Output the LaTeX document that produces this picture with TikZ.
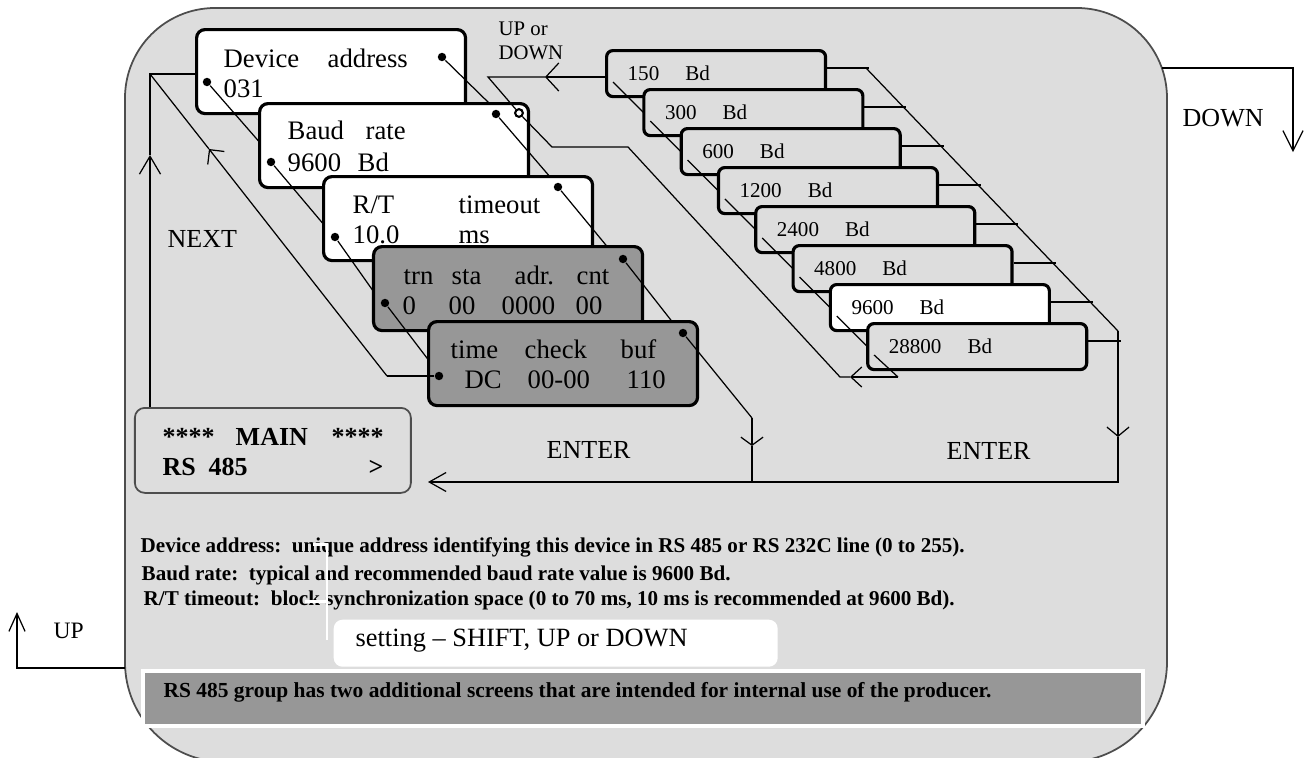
\documentclass[tikz,border=0pt]{standalone}
\usepackage{fontspec}
\setmainfont{Liberation Serif}
\usetikzlibrary{arrows.meta, positioning, calc}
\definecolor{panelgray}{HTML}{DDDDDD}
\definecolor{screengray}{HTML}{979797}
\definecolor{framegray}{HTML}{4D4D4D}

\begin{document}
\begin{tikzpicture}[x=0.1mm, y=-0.1mm,
    link/.style={line width=0.35pt},
    screen/.style={draw, line width=0.9pt, rounded corners=2.4pt, fill=white, anchor=north west,
      minimum width=26.9mm, minimum height=8.4mm, inner sep=0pt},
    ratebox/.style={draw, line width=0.9pt, rounded corners=1.8pt, anchor=north west,
      minimum width=21.9mm, minimum height=4.6mm, inner sep=0pt},
    dot/.style={circle, fill=black, inner sep=0pt, minimum size=2.4pt},
    bodytext/.style={anchor=base west, inner sep=0pt, font=\fontsize{7.6}{9}\selectfont},
    ratetext/.style={anchor=base west, inner sep=0pt, font=\fontsize{6}{7}\selectfont},
    cmdtext/.style={anchor=base west, inner sep=0pt, font=\fontsize{7.4}{9}\selectfont},
    notetext/.style={anchor=base west, inner sep=0pt, font=\bfseries\fontsize{6}{7}\selectfont}]
  \useasboundingbox (0,0) rectangle (1305,758);

  % panel
  \draw[framegray, line width=0.5pt, fill=panelgray] (125,400) [rounded corners=25.6pt] -- (125,8) -- (640,8)
    [rounded corners=25.6pt] -- (1167,8) -- (1167,400)
    [rounded corners=28.4pt] -- (1167,762) -- (640,762)
    [rounded corners=28.4pt] -- (125,762) -- cycle;

  % UP / DOWN outside
  \coordinate (upfoot) at (125,668);
  \draw[link, -{Straight Barb[length=5.1pt,width=4.6pt]}] (upfoot) -- (17,668) -- (17,612);
  \node[cmdtext, font=\fontsize{6.7}{8}\selectfont] (uplbl) at (53,638) {UP};
  \coordinate (downfoot) at (1162,68);
  \draw[link, -{Straight Barb[length=5.7pt,width=5.7pt]}] (downfoot) -- (1293,68) -- (1293,152);
  \node[cmdtext] (downlbl) at (1182,126) {DOWN};

  % device address
  \node[screen] (dev) at (195,28) {};
  \node[bodytext] (devA) at (223,67) {Device};
  \node[bodytext] (devB) at (327,67) {address};
  \node[bodytext] (devC) at (223,97) {031};
  \node[dot] (devL) at (207,82) {};
  \node[dot] (devR) at (442,57) {};
  \draw[link] (devL) -- (262,145);
  \draw[link] (devR) -- (490,104);

  % baud rate
  \node[screen] (baud) at (258,102) {};
  \node[bodytext] (baudA) at (287,139) {Baud};
  \node[bodytext] (baudB) at (365,139) {rate};
  \node[bodytext] (baudC) at (287,171) {9600};
  \node[bodytext] (baudD) at (357,171) {Bd};
  \node[dot] (baudL) at (271,162) {};
  \node[dot] (baudR) at (496,114) {};
  \node[circle, draw, line width=0.6pt, fill=white, inner sep=0pt, minimum size=2.2pt] (baudO) at (519,113) {};
  \draw[link] (baudL) -- (325,226);
  \draw[link] (baudR) -- (551,178);

  % R/T timeout
  \node[screen] (rt) at (322,175) {};
  \node[bodytext] (rtA) at (352,213) {R/T};
  \node[bodytext] (rtB) at (458,213) {timeout};
  \node[bodytext] (rtC) at (352,243) {10.0};
  \node[bodytext] (rtD) at (458,243) {ms};
  \node[dot] (rtL) at (335,237) {};
  \node[dot] (rtR) at (558,187) {};
  \draw[link] (rtL) -- (376,295);
  \draw[link] (rtR) -- (610,250);

  % trn sta adr cnt
  \node[screen, fill=screengray] (trn) at (372,245) {};
  \node[bodytext] (trnA) at (403,284) {trn};
  \node[bodytext] (trnB) at (451,284) {sta};
  \node[bodytext] (trnC) at (514,284) {adr.};
  \node[bodytext] (trnD) at (576,284) {cnt};
  \node[bodytext] (trnE) at (402,314) {0};
  \node[bodytext] (trnF) at (448,314) {00};
  \node[bodytext] (trnG) at (501,314) {0000};
  \node[bodytext] (trnH) at (575,314) {00};
  \node[dot] (trnL) at (385,303) {};
  \node[dot] (trnR) at (623,259) {};
  \draw[link] (trnL) -- (430,362);
  \draw[link] (trnR) -- (674,324);

  % time check buf
  \node[screen, fill=screengray] (tim) at (427,320) {};
  \node[bodytext] (timA) at (450,358) {time};
  \node[bodytext] (timB) at (524,358) {check};
  \node[bodytext] (timC) at (620,358) {buf};
  \node[bodytext] (timD) at (464,388) {DC};
  \node[bodytext] (timE) at (527,388) {00-00};
  \node[bodytext] (timF) at (626,388) {110};
  \node[dot] (timL) at (439,376) {};
  \node[dot] (timR) at (683,333) {};

  % main screen and NEXT loop
  \node[draw=framegray, line width=0.5pt, rounded corners=2.8pt, fill=panelgray, anchor=north west,
    minimum width=27.6mm, minimum height=8.5mm, inner sep=0pt] (mainscr) at (134,407) {};
  \node[bodytext, font=\bfseries\fontsize{7.4}{9}\selectfont] (mainA) at (162,445) {****};
  \node[bodytext, font=\bfseries\fontsize{7.4}{9}\selectfont] (mainB) at (235,445) {MAIN};
  \node[bodytext, font=\bfseries\fontsize{7.4}{9}\selectfont] (mainC) at (331,445) {****};
  \node[bodytext, font=\bfseries\fontsize{7.4}{9}\selectfont] (mainD) at (162,475) {RS};
  \node[bodytext, font=\bfseries\fontsize{7.4}{9}\selectfont] (mainE) at (208,475) {485};
  \node[bodytext, font=\bfseries\fontsize{7.4}{9}\selectfont] (mainF) at (368,475) {>};
  \coordinate (nextcorner) at (150,74);
  \coordinate (nextbend) at (387,376);
  \draw[link, -{Straight Barb[length=5.1pt,width=6pt]}] (mainscr.north -| nextcorner) -- (150,155);
  \draw[link] (150,155) -- (nextcorner) -- (nextcorner -| dev.west);
  \draw[link] (timL) -- (nextbend);
  \draw[link, -{Straight Barb[length=3pt,width=6pt]}] (nextbend) -- (209,149);
  \draw[link] (209,149) -- (nextcorner);
  \node[cmdtext] (nextlbl) at (167,247) {NEXT};

  % ENTER
  \coordinate (enterL) at (752,418);
  \coordinate (enterR) at (1118,331);
  \draw[link] (timR) -- (enterL);
  \draw[link, -{Straight Barb[length=2.3pt,width=6.3pt]}] (enterL) -- (752,446);
  \draw[link] (752,446) -- (752,482);
  \draw[link, -{Straight Barb[length=2.6pt,width=6.3pt]}] (enterR) -- (1118,437);
  \draw[link, -{Straight Barb[length=4.8pt,width=5.4pt]}] (1118,437) -- (1118,482) -- (428,482);
  \node[cmdtext] (enterlblA) at (546,458) {ENTER};
  \node[cmdtext] (enterlblB) at (946,459) {ENTER};

  % baud rate list
  \draw[link] (866,68) -- (enterR);
  \foreach \lbl/\fillc [count=\i from 0] in {150/panelgray, 300/panelgray, 600/panelgray, 1200/panelgray,
      2400/panelgray, 4800/panelgray, 9600/white, 28800/panelgray} {
    \node[ratebox, fill=\fillc] (r\i) at ({605+37.3*\i},{49+39*\i}) {};
    \node[ratetext] (rt\i) at ([shift={(22,31)}]r\i.north west) {\lbl\hspace{7.4pt}Bd};
    \ifnum\i<7
      \draw[link] ([shift={(8,33)}]r\i.north west) -- ++(45,45);
      \draw[link] ([shift={(0,19)}]r\i.north east) -- ++(42,0);
    \else
      \draw[link] ([shift={(0,19)}]r\i.north east) -- ++(33,0);
    \fi
  }

  % back to baud rate
  \coordinate (retR) at (898,377);
  \draw[link] ([shift={(8,33)}]r7.north west) -- (retR);
  \draw[link, -{Straight Barb[length=3.1pt,width=5.7pt]}] (retR) -- (850,377);
  \draw[link] (850,377) -- (840,377) -- (628,147) -- (552,147) -- (baudO);
  \draw[link, -{Straight Barb[length=3.7pt,width=8pt]}] ([shift={(0,28)}]r0.north west) -- (545,77);
  \draw[link] (545,77) -- (488,77) -- (baudO);
  \node[ratetext, font=\fontsize{5.9}{7}\selectfont] (updnA) at (498,35) {UP or};
  \node[ratetext, font=\fontsize{5.9}{7}\selectfont] (updnB) at (498,59) {DOWN};

  % notes
  \node[notetext] (noteA) at (140,552) {Device address:\hspace{0.5em}unique address identifying this device in RS 485 or RS 232C line (0 to 255).};
  \node[notetext] (noteB) at (141,580) {Baud rate:\hspace{0.5em}typical and recommended baud rate value is 9600 Bd.};
  \node[notetext] (noteC) at (143,605) {R/T timeout:\hspace{0.5em}block synchronization space (0 to 70 ms, 10 ms is recommended at 9600 Bd).};
  \draw[white, line width=0.85pt] (313,544) -- (327,544) -- (327,640);
  \draw[white, line width=0.85pt] (305,601) -- (327,601);
  \node[fill=white, rounded corners=2.5pt, anchor=north west, minimum width=44.4mm, minimum height=4.7mm,
    inner sep=0pt] (setbox) at (333,619) {};
  \node[bodytext, font=\fontsize{7.5}{9}\selectfont] (settxt) at (355,646) {setting -- SHIFT, UP or DOWN};
  \node[fill=screengray, draw=white, line width=1pt, anchor=north west, minimum width=100mm,
    minimum height=5.5mm, inner sep=0pt] (bar) at (141,669) {};
  \node[notetext, font=\bfseries\fontsize{6.1}{8}\selectfont] (bartxt) at (163,697) {RS 485 group has two additional screens that are intended for internal use of the producer.};
\end{tikzpicture}
\end{document}
